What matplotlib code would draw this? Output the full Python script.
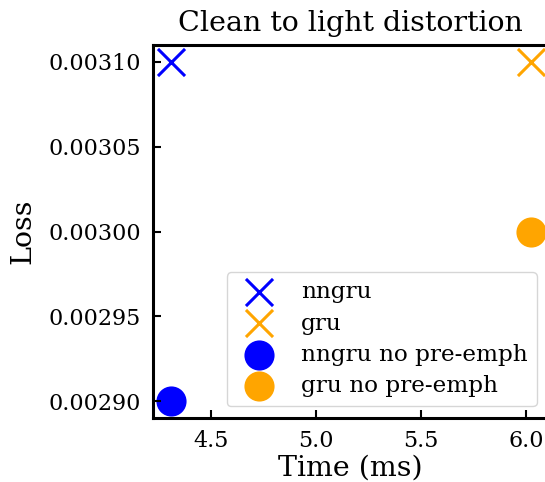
import matplotlib
matplotlib.use('Agg')
from matplotlib import pyplot as plt

plt.rcParams['font.family'] = 'DejaVu Serif'

# data
models = ['nngru', 'gru', 'nngru no pre-emph', 'gru no pre-emph']
times = [4.31, 6.02, 4.31, 6.02]
losses = [0.00310, 0.00310, 0.00290, 0.00300]
markers = ['x', 'x', 'o', 'o']
colors = ['blue', 'orange', 'blue', 'orange']

xticks = [4.5, 5.0, 5.5, 6.0]
yticks = [0.00290, 0.00295, 0.00300, 0.00305, 0.00310]

fig = plt.figure(figsize=(5.45, 4.82), dpi=100)
ax = fig.add_axes([0.2807, 0.1328, 0.7257, 0.7738])

for t, l, m, c, name in zip(times, losses, markers, colors, models):
    ax.scatter(t, l, marker=m, color=c, s=380, linewidths=2.2, label=name)

ax.set_xticks(xticks)
ax.set_yticks(yticks)
ax.set_yticklabels(['%.5f' % v for v in yticks])
ax.tick_params(direction='in', labelsize=16, width=1.5, length=6, pad=8.5)
for sp in ax.spines.values():
    sp.set_linewidth(2.2)

ax.set_xlabel('Time (ms)', fontsize=20.5, labelpad=2)
ax.set_ylabel('Loss', fontsize=20.5, labelpad=9)
ax.set_title('Clean to light distortion', fontsize=20.5, pad=10)
ax.legend(loc='lower right', fontsize=16.7, labelspacing=0.4)

fig.savefig('out.png', dpi=100)
